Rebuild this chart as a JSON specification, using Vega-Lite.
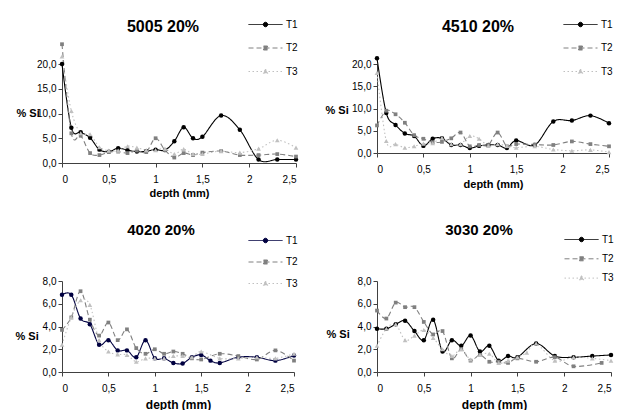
{
  "$schema": "https://vega.github.io/schema/vega-lite/v6.json",
  "background": "#ffffff",
  "padding": {"left": 15, "top": 19, "right": 0, "bottom": 0},
  "bounds": "flush",
  "columns": 2,
  "align": "each",
  "spacing": {"row": 118, "column": 81},
  "resolve": {"scale": {"x": "independent", "y": "independent", "color": "independent", "strokeDash": "independent"}, "legend": {"color": "independent", "strokeDash": "independent"}},
  "data": {"values": [
    {"panel":"5005","series":"T1","depth":0,"si":20.0},{"panel":"5005","series":"T1","depth":0.1,"si":7.1},{"panel":"5005","series":"T1","depth":0.2,"si":6.2},{"panel":"5005","series":"T1","depth":0.3,"si":5.1},{"panel":"5005","series":"T1","depth":0.4,"si":2.7},{"panel":"5005","series":"T1","depth":0.5,"si":2.3},{"panel":"5005","series":"T1","depth":0.6,"si":3.0},{"panel":"5005","series":"T1","depth":0.7,"si":2.6},{"panel":"5005","series":"T1","depth":0.8,"si":2.3},{"panel":"5005","series":"T1","depth":0.9,"si":2.4},{"panel":"5005","series":"T1","depth":1.0,"si":2.7},{"panel":"5005","series":"T1","depth":1.1,"si":2.6},{"panel":"5005","series":"T1","depth":1.2,"si":4.4},{"panel":"5005","series":"T1","depth":1.3,"si":7.2},{"panel":"5005","series":"T1","depth":1.4,"si":5.0},{"panel":"5005","series":"T1","depth":1.5,"si":5.3},{"panel":"5005","series":"T1","depth":1.7,"si":9.6},{"panel":"5005","series":"T1","depth":1.9,"si":6.7},{"panel":"5005","series":"T1","depth":2.1,"si":0.7},{"panel":"5005","series":"T1","depth":2.3,"si":0.7},{"panel":"5005","series":"T1","depth":2.5,"si":0.7},
    {"panel":"5005","series":"T2","depth":0,"si":24.0},{"panel":"5005","series":"T2","depth":0.1,"si":6.0},{"panel":"5005","series":"T2","depth":0.2,"si":5.5},{"panel":"5005","series":"T2","depth":0.3,"si":2.0},{"panel":"5005","series":"T2","depth":0.4,"si":1.6},{"panel":"5005","series":"T2","depth":0.5,"si":2.2},{"panel":"5005","series":"T2","depth":0.6,"si":2.3},{"panel":"5005","series":"T2","depth":0.7,"si":2.0},{"panel":"5005","series":"T2","depth":0.8,"si":2.5},{"panel":"5005","series":"T2","depth":0.9,"si":2.2},{"panel":"5005","series":"T2","depth":1.0,"si":5.0},{"panel":"5005","series":"T2","depth":1.1,"si":2.6},{"panel":"5005","series":"T2","depth":1.2,"si":1.1},{"panel":"5005","series":"T2","depth":1.3,"si":2.0},{"panel":"5005","series":"T2","depth":1.4,"si":1.6},{"panel":"5005","series":"T2","depth":1.5,"si":2.1},{"panel":"5005","series":"T2","depth":1.7,"si":2.4},{"panel":"5005","series":"T2","depth":1.9,"si":1.6},{"panel":"5005","series":"T2","depth":2.1,"si":1.6},{"panel":"5005","series":"T2","depth":2.3,"si":1.8},{"panel":"5005","series":"T2","depth":2.5,"si":1.3},
    {"panel":"5005","series":"T3","depth":0,"si":21.5},{"panel":"5005","series":"T3","depth":0.1,"si":10.5},{"panel":"5005","series":"T3","depth":0.2,"si":6.0},{"panel":"5005","series":"T3","depth":0.3,"si":5.8},{"panel":"5005","series":"T3","depth":0.4,"si":3.2},{"panel":"5005","series":"T3","depth":0.5,"si":2.5},{"panel":"5005","series":"T3","depth":0.6,"si":2.5},{"panel":"5005","series":"T3","depth":0.7,"si":3.4},{"panel":"5005","series":"T3","depth":0.8,"si":3.1},{"panel":"5005","series":"T3","depth":0.9,"si":2.6},{"panel":"5005","series":"T3","depth":1.0,"si":2.6},{"panel":"5005","series":"T3","depth":1.1,"si":2.9},{"panel":"5005","series":"T3","depth":1.2,"si":1.8},{"panel":"5005","series":"T3","depth":1.3,"si":2.8},{"panel":"5005","series":"T3","depth":1.4,"si":1.8},{"panel":"5005","series":"T3","depth":1.5,"si":1.8},{"panel":"5005","series":"T3","depth":1.7,"si":2.4},{"panel":"5005","series":"T3","depth":1.9,"si":2.1},{"panel":"5005","series":"T3","depth":2.1,"si":2.9},{"panel":"5005","series":"T3","depth":2.3,"si":4.6},{"panel":"5005","series":"T3","depth":2.5,"si":3.1},
    {"panel":"4510","series":"T1","depth":0,"si":21.3},{"panel":"4510","series":"T1","depth":0.1,"si":9.0},{"panel":"4510","series":"T1","depth":0.2,"si":6.3},{"panel":"4510","series":"T1","depth":0.3,"si":4.4},{"panel":"4510","series":"T1","depth":0.4,"si":3.8},{"panel":"4510","series":"T1","depth":0.5,"si":1.6},{"panel":"4510","series":"T1","depth":0.6,"si":3.2},{"panel":"4510","series":"T1","depth":0.7,"si":3.3},{"panel":"4510","series":"T1","depth":0.8,"si":1.8},{"panel":"4510","series":"T1","depth":0.9,"si":1.8},{"panel":"4510","series":"T1","depth":1.0,"si":1.1},{"panel":"4510","series":"T1","depth":1.1,"si":1.6},{"panel":"4510","series":"T1","depth":1.2,"si":1.8},{"panel":"4510","series":"T1","depth":1.3,"si":1.8},{"panel":"4510","series":"T1","depth":1.4,"si":1.1},{"panel":"4510","series":"T1","depth":1.5,"si":2.8},{"panel":"4510","series":"T1","depth":1.7,"si":1.8},{"panel":"4510","series":"T1","depth":1.9,"si":7.1},{"panel":"4510","series":"T1","depth":2.1,"si":7.3},{"panel":"4510","series":"T1","depth":2.3,"si":8.4},{"panel":"4510","series":"T1","depth":2.5,"si":6.7},
    {"panel":"4510","series":"T2","depth":0,"si":6.2},{"panel":"4510","series":"T2","depth":0.1,"si":9.5},{"panel":"4510","series":"T2","depth":0.2,"si":8.7},{"panel":"4510","series":"T2","depth":0.3,"si":6.8},{"panel":"4510","series":"T2","depth":0.4,"si":4.0},{"panel":"4510","series":"T2","depth":0.5,"si":3.2},{"panel":"4510","series":"T2","depth":0.6,"si":2.4},{"panel":"4510","series":"T2","depth":0.7,"si":2.5},{"panel":"4510","series":"T2","depth":0.8,"si":3.3},{"panel":"4510","series":"T2","depth":0.9,"si":4.6},{"panel":"4510","series":"T2","depth":1.0,"si":1.5},{"panel":"4510","series":"T2","depth":1.1,"si":1.8},{"panel":"4510","series":"T2","depth":1.2,"si":1.8},{"panel":"4510","series":"T2","depth":1.3,"si":4.6},{"panel":"4510","series":"T2","depth":1.4,"si":1.5},{"panel":"4510","series":"T2","depth":1.5,"si":2.0},{"panel":"4510","series":"T2","depth":1.7,"si":1.9},{"panel":"4510","series":"T2","depth":1.9,"si":1.8},{"panel":"4510","series":"T2","depth":2.1,"si":2.6},{"panel":"4510","series":"T2","depth":2.3,"si":2.0},{"panel":"4510","series":"T2","depth":2.5,"si":1.5},
    {"panel":"4510","series":"T3","depth":0,"si":18.0},{"panel":"4510","series":"T3","depth":0.1,"si":2.7},{"panel":"4510","series":"T3","depth":0.2,"si":2.0},{"panel":"4510","series":"T3","depth":0.3,"si":1.2},{"panel":"4510","series":"T3","depth":0.4,"si":1.5},{"panel":"4510","series":"T3","depth":0.5,"si":2.1},{"panel":"4510","series":"T3","depth":0.6,"si":2.2},{"panel":"4510","series":"T3","depth":0.7,"si":3.4},{"panel":"4510","series":"T3","depth":0.8,"si":2.0},{"panel":"4510","series":"T3","depth":0.9,"si":2.0},{"panel":"4510","series":"T3","depth":1.0,"si":3.8},{"panel":"4510","series":"T3","depth":1.1,"si":3.2},{"panel":"4510","series":"T3","depth":1.2,"si":1.6},{"panel":"4510","series":"T3","depth":1.3,"si":2.0},{"panel":"4510","series":"T3","depth":1.4,"si":1.6},{"panel":"4510","series":"T3","depth":1.5,"si":1.2},{"panel":"4510","series":"T3","depth":1.7,"si":1.5},{"panel":"4510","series":"T3","depth":1.9,"si":0.8},{"panel":"4510","series":"T3","depth":2.1,"si":0.5},{"panel":"4510","series":"T3","depth":2.3,"si":0.7},{"panel":"4510","series":"T3","depth":2.5,"si":0.2},
    {"panel":"4020","series":"T1","depth":0,"si":6.8},{"panel":"4020","series":"T1","depth":0.1,"si":6.8},{"panel":"4020","series":"T1","depth":0.2,"si":4.7},{"panel":"4020","series":"T1","depth":0.3,"si":4.2},{"panel":"4020","series":"T1","depth":0.4,"si":2.4},{"panel":"4020","series":"T1","depth":0.5,"si":2.8},{"panel":"4020","series":"T1","depth":0.6,"si":1.9},{"panel":"4020","series":"T1","depth":0.7,"si":1.9},{"panel":"4020","series":"T1","depth":0.8,"si":1.3},{"panel":"4020","series":"T1","depth":0.9,"si":2.8},{"panel":"4020","series":"T1","depth":1.0,"si":1.2},{"panel":"4020","series":"T1","depth":1.1,"si":1.2},{"panel":"4020","series":"T1","depth":1.2,"si":0.8},{"panel":"4020","series":"T1","depth":1.3,"si":0.75},{"panel":"4020","series":"T1","depth":1.4,"si":1.3},{"panel":"4020","series":"T1","depth":1.5,"si":1.5},{"panel":"4020","series":"T1","depth":1.6,"si":1.0},{"panel":"4020","series":"T1","depth":1.7,"si":0.8},{"panel":"4020","series":"T1","depth":1.9,"si":1.3},{"panel":"4020","series":"T1","depth":2.1,"si":1.3},{"panel":"4020","series":"T1","depth":2.3,"si":1.0},{"panel":"4020","series":"T1","depth":2.5,"si":1.45},
    {"panel":"4020","series":"T2","depth":0,"si":3.7},{"panel":"4020","series":"T2","depth":0.1,"si":4.8},{"panel":"4020","series":"T2","depth":0.2,"si":7.1},{"panel":"4020","series":"T2","depth":0.3,"si":4.6},{"panel":"4020","series":"T2","depth":0.4,"si":3.2},{"panel":"4020","series":"T2","depth":0.5,"si":4.35},{"panel":"4020","series":"T2","depth":0.6,"si":2.8},{"panel":"4020","series":"T2","depth":0.7,"si":3.75},{"panel":"4020","series":"T2","depth":0.8,"si":2.1},{"panel":"4020","series":"T2","depth":0.9,"si":1.6},{"panel":"4020","series":"T2","depth":1.0,"si":2.0},{"panel":"4020","series":"T2","depth":1.1,"si":1.6},{"panel":"4020","series":"T2","depth":1.2,"si":1.8},{"panel":"4020","series":"T2","depth":1.3,"si":1.6},{"panel":"4020","series":"T2","depth":1.4,"si":1.2},{"panel":"4020","series":"T2","depth":1.5,"si":1.1},{"panel":"4020","series":"T2","depth":1.7,"si":1.6},{"panel":"4020","series":"T2","depth":1.9,"si":1.4},{"panel":"4020","series":"T2","depth":2.1,"si":1.1},{"panel":"4020","series":"T2","depth":2.3,"si":1.9},{"panel":"4020","series":"T2","depth":2.5,"si":1.0},
    {"panel":"4020","series":"T3","depth":0,"si":2.4},{"panel":"4020","series":"T3","depth":0.1,"si":4.8},{"panel":"4020","series":"T3","depth":0.2,"si":6.3},{"panel":"4020","series":"T3","depth":0.3,"si":5.9},{"panel":"4020","series":"T3","depth":0.4,"si":2.8},{"panel":"4020","series":"T3","depth":0.5,"si":1.8},{"panel":"4020","series":"T3","depth":0.6,"si":1.55},{"panel":"4020","series":"T3","depth":0.7,"si":1.5},{"panel":"4020","series":"T3","depth":0.8,"si":0.9},{"panel":"4020","series":"T3","depth":0.9,"si":1.2},{"panel":"4020","series":"T3","depth":1.0,"si":1.2},{"panel":"4020","series":"T3","depth":1.1,"si":1.2},{"panel":"4020","series":"T3","depth":1.2,"si":1.4},{"panel":"4020","series":"T3","depth":1.3,"si":1.4},{"panel":"4020","series":"T3","depth":1.4,"si":1.3},{"panel":"4020","series":"T3","depth":1.5,"si":1.8},{"panel":"4020","series":"T3","depth":1.7,"si":1.2},{"panel":"4020","series":"T3","depth":1.9,"si":1.2},{"panel":"4020","series":"T3","depth":2.1,"si":1.3},{"panel":"4020","series":"T3","depth":2.3,"si":1.2},{"panel":"4020","series":"T3","depth":2.5,"si":1.6},
    {"panel":"3030","series":"T1","depth":0,"si":3.8},{"panel":"3030","series":"T1","depth":0.1,"si":3.8},{"panel":"3030","series":"T1","depth":0.2,"si":4.2},{"panel":"3030","series":"T1","depth":0.3,"si":4.5},{"panel":"3030","series":"T1","depth":0.4,"si":3.6},{"panel":"3030","series":"T1","depth":0.5,"si":2.8},{"panel":"3030","series":"T1","depth":0.6,"si":4.6},{"panel":"3030","series":"T1","depth":0.7,"si":1.8},{"panel":"3030","series":"T1","depth":0.8,"si":2.8},{"panel":"3030","series":"T1","depth":0.9,"si":2.3},{"panel":"3030","series":"T1","depth":1.0,"si":3.2},{"panel":"3030","series":"T1","depth":1.1,"si":1.8},{"panel":"3030","series":"T1","depth":1.2,"si":2.3},{"panel":"3030","series":"T1","depth":1.3,"si":1.0},{"panel":"3030","series":"T1","depth":1.4,"si":1.4},{"panel":"3030","series":"T1","depth":1.5,"si":1.3},{"panel":"3030","series":"T1","depth":1.7,"si":2.5},{"panel":"3030","series":"T1","depth":1.9,"si":1.4},{"panel":"3030","series":"T1","depth":2.1,"si":1.3},{"panel":"3030","series":"T1","depth":2.3,"si":1.4},{"panel":"3030","series":"T1","depth":2.5,"si":1.5},
    {"panel":"3030","series":"T2","depth":0,"si":5.4},{"panel":"3030","series":"T2","depth":0.1,"si":4.7},{"panel":"3030","series":"T2","depth":0.2,"si":6.1},{"panel":"3030","series":"T2","depth":0.3,"si":5.7},{"panel":"3030","series":"T2","depth":0.4,"si":5.7},{"panel":"3030","series":"T2","depth":0.5,"si":4.4},{"panel":"3030","series":"T2","depth":0.6,"si":3.3},{"panel":"3030","series":"T2","depth":0.7,"si":3.6},{"panel":"3030","series":"T2","depth":0.8,"si":1.2},{"panel":"3030","series":"T2","depth":0.9,"si":2.0},{"panel":"3030","series":"T2","depth":1.0,"si":1.0},{"panel":"3030","series":"T2","depth":1.1,"si":1.5},{"panel":"3030","series":"T2","depth":1.2,"si":0.9},{"panel":"3030","series":"T2","depth":1.3,"si":0.9},{"panel":"3030","series":"T2","depth":1.4,"si":0.8},{"panel":"3030","series":"T2","depth":1.5,"si":1.2},{"panel":"3030","series":"T2","depth":1.7,"si":0.9},{"panel":"3030","series":"T2","depth":1.9,"si":1.3},{"panel":"3030","series":"T2","depth":2.1,"si":0.5},{"panel":"3030","series":"T2","depth":2.4,"si":0.8},
    {"panel":"3030","series":"T3","depth":0,"si":2.3},{"panel":"3030","series":"T3","depth":0.1,"si":3.8},{"panel":"3030","series":"T3","depth":0.2,"si":4.2},{"panel":"3030","series":"T3","depth":0.3,"si":2.8},{"panel":"3030","series":"T3","depth":0.4,"si":3.2},{"panel":"3030","series":"T3","depth":0.5,"si":3.7},{"panel":"3030","series":"T3","depth":0.6,"si":3.0},{"panel":"3030","series":"T3","depth":0.7,"si":2.0},{"panel":"3030","series":"T3","depth":0.8,"si":1.4},{"panel":"3030","series":"T3","depth":0.9,"si":2.0},{"panel":"3030","series":"T3","depth":1.0,"si":1.1},{"panel":"3030","series":"T3","depth":1.1,"si":1.5},{"panel":"3030","series":"T3","depth":1.2,"si":1.6},{"panel":"3030","series":"T3","depth":1.3,"si":0.8},{"panel":"3030","series":"T3","depth":1.4,"si":1.0},{"panel":"3030","series":"T3","depth":1.5,"si":1.3},{"panel":"3030","series":"T3","depth":1.6,"si":1.7},{"panel":"3030","series":"T3","depth":1.7,"si":2.5},{"panel":"3030","series":"T3","depth":1.9,"si":1.0},{"panel":"3030","series":"T3","depth":2.1,"si":1.3},{"panel":"3030","series":"T3","depth":2.3,"si":1.2},{"panel":"3030","series":"T3","depth":2.5,"si":1.0}
  ]},
  "concat": [
    {
      "width": 234, "height": 99,
      "title": {"text": "5005 20%", "dx": -16, "offset": -16},
      "transform": [{"filter": "datum.panel == '5005'"}],
      "encoding": {
        "x": {"field": "depth", "type": "quantitative", "scale": {"domain": [0, 2.5], "nice": false}, "axis": {"values": [0, 0.5, 1, 1.5, 2, 2.5], "labelExpr": "replace(toString(datum.value), '.', ',')", "title": "depth (mm)", "labelPadding": 7, "titlePadding": 3}},
        "y": {"field": "si", "type": "quantitative", "scale": {"domain": [0, 20], "nice": false}, "axis": {"values": [0, 5, 10, 15, 20], "labelExpr": "replace(format(datum.value, '.1f'), '.', ',')", "title": "% Si", "titleAngle": 0, "titleX": -46, "titleY": 49, "titleAlign": "left", "titleBaseline": "middle"}},
        "color": {"field": "series", "type": "nominal", "scale": {"domain": ["T1", "T2", "T3"], "range": ["#000000", "#808080", "#c0c0c0"]},
          "legend": {"title": null, "orient": "none", "legendX": 198, "legendY": -45, "rowPadding": 12.5,
            "encode": {"symbols": {"update": {"shape": {"signal": "datum.value == 'T1' ? 'M-3.4,0H3.4M-0.45,0A0.45,0.45,0,1,0,0.45,0A0.45,0.45,0,1,0,-0.45,0Z' : datum.value == 'T2' ? 'M-3.4,0H3.4M-0.4,-0.4H0.4V0.4H-0.4Z' : 'M-3.4,0H3.4M0,-0.5L0.45,0.35L-0.45,0.35Z'"}, "strokeWidth": {"value": 1}}}}}}
      },
      "layer": [
        {"mark": {"type": "line", "interpolate": "cardinal", "clip": false, "strokeWidth": 1.1},
         "encoding": {"strokeDash": {"field": "series", "type": "nominal", "scale": {"domain": ["T1", "T2", "T3"], "range": [[1, 0], [5, 3], [1.5, 2.5]]}, "legend": {"title": null, "orient": "none", "legendX": 198, "legendY": -45, "rowPadding": 12.5}}}},
        {"transform": [{"filter": "datum.series == 'T1'"}], "mark": {"type": "point", "shape": "circle", "size": 20, "filled": true, "opacity": 1, "clip": false}},
        {"transform": [{"filter": "datum.series == 'T2'"}], "mark": {"type": "point", "shape": "square", "size": 14, "filled": true, "opacity": 1, "clip": false}},
        {"transform": [{"filter": "datum.series == 'T3'"}], "mark": {"type": "point", "shape": "triangle-up", "size": 22, "filled": true, "opacity": 1, "clip": false}}
      ]
    },
    {
      "width": 232, "height": 89,
      "title": {"text": "4510 20%", "dx": -15, "offset": -16},
      "transform": [{"filter": "datum.panel == '4510'"}],
      "encoding": {
        "x": {"field": "depth", "type": "quantitative", "scale": {"domain": [0, 2.5], "nice": false}, "axis": {"values": [0, 0.5, 1, 1.5, 2, 2.5], "labelExpr": "replace(toString(datum.value), '.', ',')", "title": "depth (mm)", "labelPadding": 7, "titlePadding": 4}},
        "y": {"field": "si", "type": "quantitative", "scale": {"domain": [0, 20], "nice": false}, "axis": {"values": [0, 5, 10, 15, 20], "labelExpr": "replace(format(datum.value, '.1f'), '.', ',')", "title": "% Si", "titleAngle": 0, "titleX": -52, "titleY": 46, "titleAlign": "left", "titleBaseline": "middle"}},
        "color": {"field": "series", "type": "nominal", "scale": {"domain": ["T1", "T2", "T3"], "range": ["#000000", "#808080", "#c0c0c0"]},
          "legend": {"title": null, "orient": "none", "legendX": 198, "legendY": -45, "rowPadding": 12.5,
            "encode": {"symbols": {"update": {"shape": {"signal": "datum.value == 'T1' ? 'M-3.4,0H3.4M-0.45,0A0.45,0.45,0,1,0,0.45,0A0.45,0.45,0,1,0,-0.45,0Z' : datum.value == 'T2' ? 'M-3.4,0H3.4M-0.4,-0.4H0.4V0.4H-0.4Z' : 'M-3.4,0H3.4M0,-0.5L0.45,0.35L-0.45,0.35Z'"}, "strokeWidth": {"value": 1}}}}}}
      },
      "layer": [
        {"mark": {"type": "line", "interpolate": "cardinal", "clip": false, "strokeWidth": 1.1},
         "encoding": {"strokeDash": {"field": "series", "type": "nominal", "scale": {"domain": ["T1", "T2", "T3"], "range": [[1, 0], [5, 3], [1.5, 2.5]]}, "legend": {"title": null, "orient": "none", "legendX": 198, "legendY": -45, "rowPadding": 12.5}}}},
        {"transform": [{"filter": "datum.series == 'T1'"}], "mark": {"type": "point", "shape": "circle", "size": 20, "filled": true, "opacity": 1, "clip": false}},
        {"transform": [{"filter": "datum.series == 'T2'"}], "mark": {"type": "point", "shape": "square", "size": 14, "filled": true, "opacity": 1, "clip": false}},
        {"transform": [{"filter": "datum.series == 'T3'"}], "mark": {"type": "point", "shape": "triangle-up", "size": 22, "filled": true, "opacity": 1, "clip": false}}
      ]
    },
    {
      "width": 232, "height": 91,
      "title": {"text": "4020 20%", "dx": -17, "offset": -3, "fontSize": 15},
      "transform": [{"filter": "datum.panel == '4020'"}],
      "encoding": {
        "x": {"field": "depth", "type": "quantitative", "scale": {"domain": [0, 2.5], "nice": false}, "axis": {"values": [0, 0.5, 1, 1.5, 2, 2.5], "labelExpr": "replace(toString(datum.value), '.', ',')", "title": "depth (mm)", "labelPadding": 7, "titlePadding": 6, "titleFontSize": 12}},
        "y": {"field": "si", "type": "quantitative", "scale": {"domain": [0, 8], "nice": false}, "axis": {"values": [0, 2, 4, 6, 8], "labelExpr": "replace(format(datum.value, '.1f'), '.', ',')", "title": "% Si", "titleAngle": 0, "titleX": -47, "titleY": 55, "titleAlign": "left", "titleBaseline": "middle"}},
        "color": {"field": "series", "type": "nominal", "scale": {"domain": ["T1", "T2", "T3"], "range": ["#000040", "#808080", "#c0c0c0"]},
          "legend": {"title": null, "orient": "none", "legendX": 198, "legendY": -46, "rowPadding": 10.5,
            "encode": {"symbols": {"update": {"shape": {"signal": "datum.value == 'T1' ? 'M-3.4,0H3.4M-0.45,0A0.45,0.45,0,1,0,0.45,0A0.45,0.45,0,1,0,-0.45,0Z' : datum.value == 'T2' ? 'M-3.4,0H3.4M-0.4,-0.4H0.4V0.4H-0.4Z' : 'M-3.4,0H3.4M0,-0.5L0.45,0.35L-0.45,0.35Z'"}, "strokeWidth": {"value": 1}}}}}}
      },
      "layer": [
        {"mark": {"type": "line", "interpolate": "cardinal", "clip": false, "strokeWidth": 1.1},
         "encoding": {"strokeDash": {"field": "series", "type": "nominal", "scale": {"domain": ["T1", "T2", "T3"], "range": [[1, 0], [5, 3], [1.5, 2.5]]}, "legend": {"title": null, "orient": "none", "legendX": 198, "legendY": -46, "rowPadding": 10.5}}}},
        {"transform": [{"filter": "datum.series == 'T1'"}], "mark": {"type": "point", "shape": "circle", "size": 20, "filled": true, "opacity": 1, "clip": false}},
        {"transform": [{"filter": "datum.series == 'T2'"}], "mark": {"type": "point", "shape": "square", "size": 14, "filled": true, "opacity": 1, "clip": false}},
        {"transform": [{"filter": "datum.series == 'T3'"}], "mark": {"type": "point", "shape": "triangle-up", "size": 22, "filled": true, "opacity": 1, "clip": false}}
      ]
    },
    {
      "width": 234, "height": 91,
      "title": {"text": "3030 20%", "dx": -15, "offset": -4, "fontSize": 15},
      "transform": [{"filter": "datum.panel == '3030'"}],
      "encoding": {
        "x": {"field": "depth", "type": "quantitative", "scale": {"domain": [0, 2.5], "nice": false}, "axis": {"values": [0, 0.5, 1, 1.5, 2, 2.5], "labelExpr": "replace(toString(datum.value), '.', ',')", "title": "depth (mm)", "labelPadding": 7, "titlePadding": 6, "titleFontSize": 12}},
        "y": {"field": "si", "type": "quantitative", "scale": {"domain": [0, 8], "nice": false}, "axis": {"values": [0, 2, 4, 6, 8], "labelExpr": "replace(format(datum.value, '.1f'), '.', ',')", "title": "% Si", "titleAngle": 0, "titleX": -51, "titleY": 53, "titleAlign": "left", "titleBaseline": "middle"}},
        "color": {"field": "series", "type": "nominal", "scale": {"domain": ["T1", "T2", "T3"], "range": ["#000000", "#808080", "#c0c0c0"]},
          "legend": {"title": null, "orient": "none", "legendX": 199, "legendY": -47, "rowPadding": 8.3,
            "encode": {"symbols": {"update": {"shape": {"signal": "datum.value == 'T1' ? 'M-3.4,0H3.4M-0.45,0A0.45,0.45,0,1,0,0.45,0A0.45,0.45,0,1,0,-0.45,0Z' : datum.value == 'T2' ? 'M-3.4,0H3.4M-0.4,-0.4H0.4V0.4H-0.4Z' : 'M-3.4,0H3.4M0,-0.5L0.45,0.35L-0.45,0.35Z'"}, "strokeWidth": {"value": 1}}}}}}
      },
      "layer": [
        {"mark": {"type": "line", "interpolate": "cardinal", "clip": false, "strokeWidth": 1.1},
         "encoding": {"strokeDash": {"field": "series", "type": "nominal", "scale": {"domain": ["T1", "T2", "T3"], "range": [[1, 0], [5, 3], [1.5, 2.5]]}, "legend": {"title": null, "orient": "none", "legendX": 199, "legendY": -47, "rowPadding": 8.3}}}},
        {"transform": [{"filter": "datum.series == 'T1'"}], "mark": {"type": "point", "shape": "circle", "size": 20, "filled": true, "opacity": 1, "clip": false}},
        {"transform": [{"filter": "datum.series == 'T2'"}], "mark": {"type": "point", "shape": "square", "size": 14, "filled": true, "opacity": 1, "clip": false}},
        {"transform": [{"filter": "datum.series == 'T3'"}], "mark": {"type": "point", "shape": "triangle-up", "size": 22, "filled": true, "opacity": 1, "clip": false}}
      ]
    }
  ],
  "config": {
    "font": "Liberation Sans",
    "view": {"stroke": null},
    "title": {"fontSize": 16, "fontWeight": "bold", "color": "#000000", "font": "Liberation Sans", "anchor": "middle"},
    "axis": {"grid": false, "domainColor": "#404040", "tickColor": "#404040", "tickSize": 4, "labelFontSize": 10, "labelColor": "#000000", "labelFont": "Liberation Sans", "titleFontSize": 11, "titleFontWeight": "bold", "titleColor": "#000000", "titleFont": "Liberation Sans", "labelPadding": 2},
    "legend": {"labelFontSize": 10, "labelColor": "#000000", "labelFont": "Liberation Sans", "symbolSize": 100, "padding": 0, "labelOffset": 15, "symbolStrokeWidth": 1}
  }
}
